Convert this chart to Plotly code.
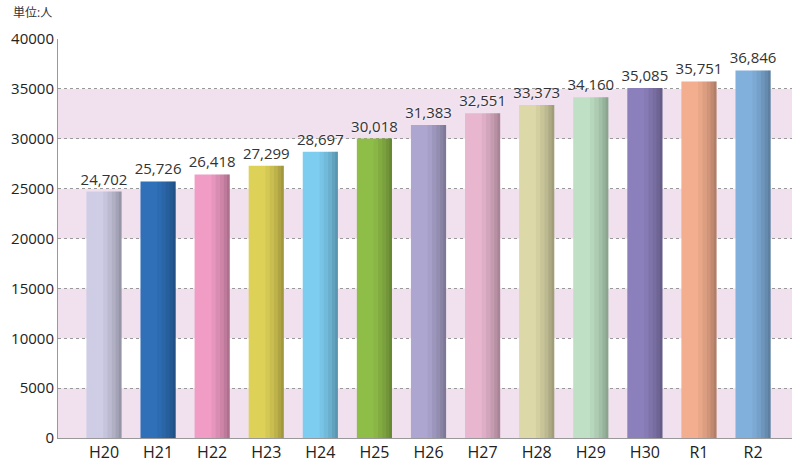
import plotly.graph_objects as go

categories = ["H20", "H21", "H22", "H23", "H24", "H25", "H26", "H27", "H28", "H29", "H30", "R1", "R2"]
values = [24702, 25726, 26418, 27299, 28697, 30018, 31383, 32551, 33373, 34160, 35085, 35751, 36846]
bar_colors = ["#cfcde6", "#2f70b8", "#f09cc4", "#ddd158", "#7dcdf0", "#8fbe48", "#ada6d0",
              "#e8b6cf", "#dcd8a8", "#bfe0c4", "#8c80bc", "#f2ae8e", "#82b0dc"]
y_ticks = [0, 5000, 10000, 15000, 20000, 25000, 30000, 35000, 40000]
unit_label = "単位:人"

FONT = "Open Sans, Noto Sans CJK JP, sans-serif"
BW = 0.65

fig = go.Figure()

fig.add_trace(go.Bar(
    x=categories, y=values, width=BW, offset=-BW / 2,
    marker=dict(color=bar_colors, line=dict(width=0)),
    text=[f"{v:,}" for v in values], textposition="outside", constraintext="none",
    textfont=dict(size=15, color="#333333", family=FONT, shadow="0px 0px 3px white"),
    cliponaxis=False, hoverinfo="x+y",
))

# darker shading toward the right edge of each bar (gradient imitation)
for w, op in [(0.34, 0.04), (0.26, 0.05), (0.18, 0.06), (0.11, 0.07), (0.05, 0.08)]:
    fig.add_trace(go.Bar(
        x=categories, y=values, width=w, offset=BW / 2 - w,
        marker=dict(color="black", opacity=op, line=dict(width=0)),
        hoverinfo="skip", showlegend=False,
    ))

# pink bands on alternate tick intervals
shapes = []
for i in range(0, len(y_ticks) - 1, 2):
    shapes.append(dict(type="rect", xref="paper", yref="y", x0=0, x1=1,
                       y0=y_ticks[i], y1=y_ticks[i + 1],
                       fillcolor="#f1e1ef", line=dict(width=0), layer="below"))

fig.update_layout(
    width=792, height=459,
    margin=dict(l=58, r=0, t=39, b=21, autoexpand=False),
    barmode="overlay",
    showlegend=False,
    plot_bgcolor="white", paper_bgcolor="white",
    font=dict(family=FONT, color="#333333"),
    shapes=shapes,
    annotations=[dict(text=unit_label, xref="paper", yref="paper", x=-0.064, y=1.04,
                      xanchor="left", yanchor="bottom", showarrow=False,
                      font=dict(size=12, color="#333333", family=FONT))],
    xaxis=dict(range=[-0.85, 12.72], showgrid=False, showline=True, linecolor="#999999",
               linewidth=1, ticks="", tickfont=dict(size=16, color="#222222"), fixedrange=True,
               automargin=False, ticklabelstandoff=0),
    yaxis=dict(range=[0, 40000], tickvals=y_ticks, ticktext=[str(v) for v in y_ticks],
               showgrid=True, gridcolor="#999999",
               griddash="dot", gridwidth=1, showline=True, linecolor="#999999", linewidth=1,
               ticks="", tickfont=dict(size=15, color="#222222"), zeroline=False,
               automargin=False, layer="below traces", fixedrange=True),
)

fig.write_html("out.html", config={"displayModeBar": False},
               post_script="document.body.style.margin='0';document.body.style.overflow='hidden';")
